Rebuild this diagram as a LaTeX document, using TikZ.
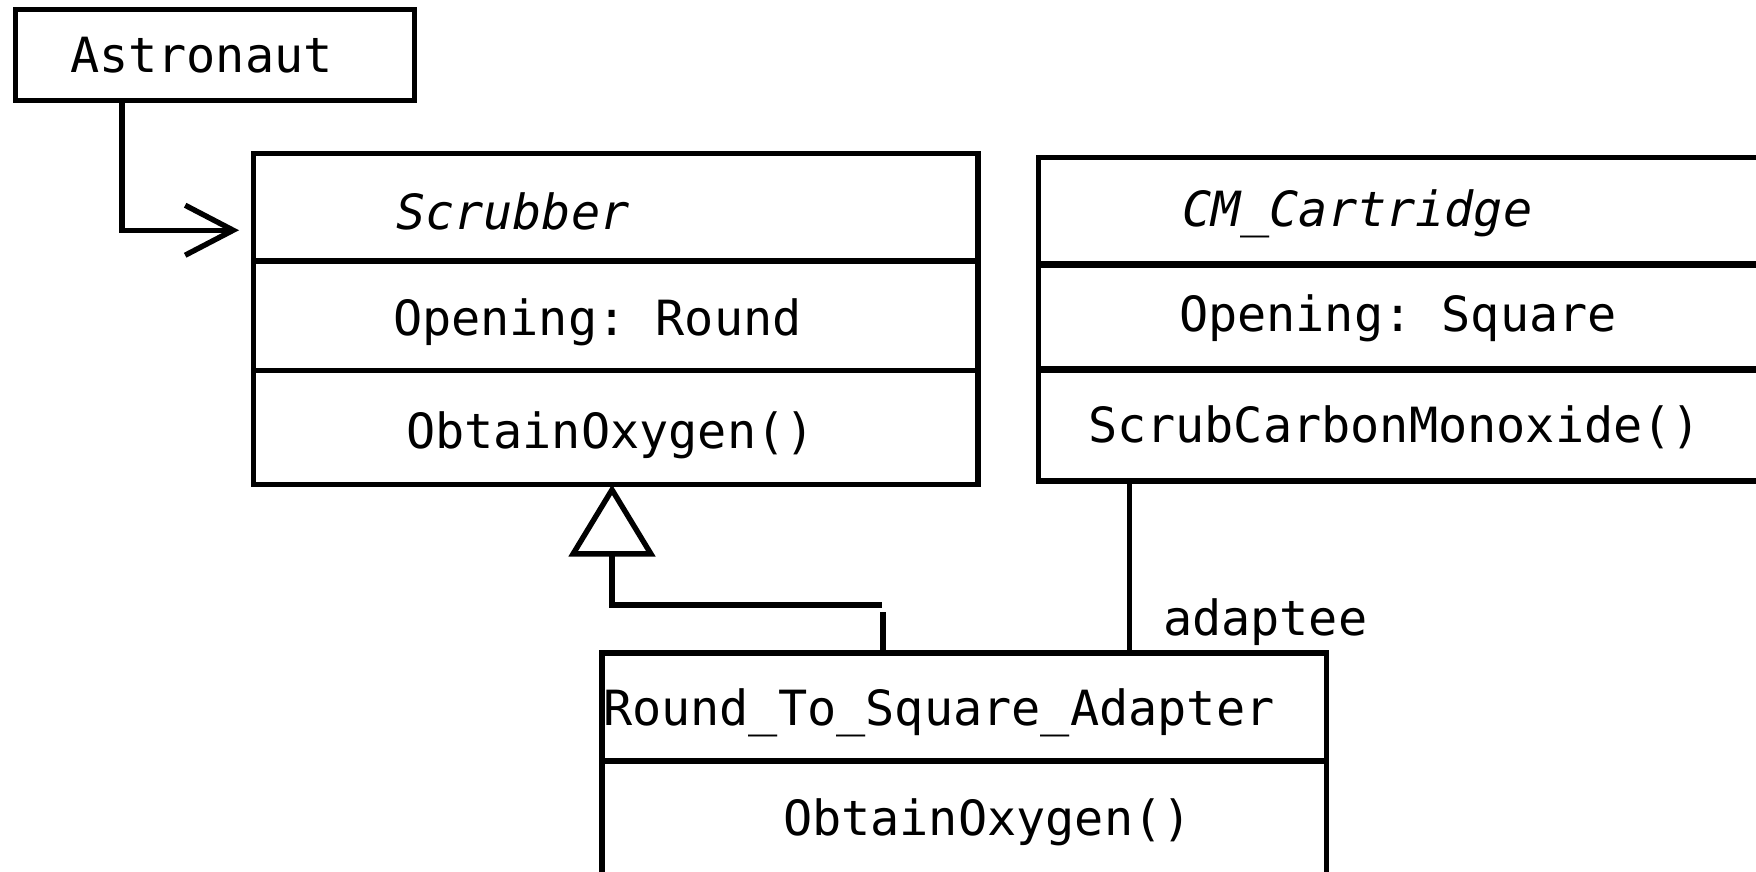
\documentclass[tikz,border=0pt]{standalone}
\usepackage{fontspec}
\newfontfamily\umlmono{DejaVu Sans Mono}
\usetikzlibrary{arrows.meta}
\tikzset{
  umlbox/.style={draw, line width=2.7pt, inner sep=0pt, outer sep=0pt, anchor=north west},
  umltext/.style={font=\umlmono\frenchspacing\fontsize{24.25pt}{29pt}\selectfont, anchor=base west, inner sep=0pt, outer sep=0pt},
  umlabstract/.style={umltext, font=\umlmono\frenchspacing\itshape\fontsize{24.25pt}{29pt}\selectfont},
  link/.style={line width=2.7pt},
}
\begin{document}
\begin{tikzpicture}[x=0.5pt, y=-0.5pt]
\fill[white] (0,0) rectangle (1756,872);
\useasboundingbox (0,0) rectangle (1756,872);
\clip (0,0) rectangle (1756,872);

% client
\node[umlbox, minimum width=199.5pt, minimum height=45.5pt] (astro) at (15.5,9.5) {};
\node[umltext] (astroLabel) at (70,73) {Astronaut};

% target class
\node[umlbox, minimum width=362.25pt, minimum height=53.75pt] (scrubName) at (253.5,153.5) {};
\node[umlbox, minimum width=362.25pt, minimum height=54.75pt] (scrubAttr) at (253.5,261) {};
\node[umlbox, minimum width=362.25pt, minimum height=57pt] (scrubOps) at (253.5,370.5) {};
\node[umlabstract] (scrubNameLabel) at (396,229) {Scrubber};
\node[umltext] (scrubAttrLabel) at (393,335) {Opening: Round};
\node[umltext] (scrubOpsLabel) at (406,448) {ObtainOxygen()};

% adaptee class
\node[umlbox, minimum width=390pt, minimum height=53.5pt] (cmName) at (1038.5,157.5) {};
\node[umlbox, minimum width=390pt, minimum height=52.25pt] (cmAttr) at (1038.5,264.5) {};
\node[umlbox, minimum width=390pt, minimum height=56pt] (cmOps) at (1038.5,369) {};
\draw[line width=3.5pt] (cmAttr.north west) -- (cmAttr.north east)
                        (cmOps.north west) -- (cmOps.north east);
\node[umlabstract] (cmNameLabel) at (1182,226) {CM\_Cartridge};
\node[umltext] (cmAttrLabel) at (1179,331) {Opening: Square};
\node[umltext] (cmOpsLabel) at (1088,442) {ScrubCarbonMonoxide()};

% adapter class
\node[umlbox, minimum width=362.25pt, minimum height=54pt] (adaptName) at (602,653) {};
\node[umlbox, minimum width=362.25pt, minimum height=80pt] (adaptOps) at (602,761) {};
\node[umltext] (adaptNameLabel) at (603,725) {Round\_To\_Square\_Adapter};
\node[umltext] (adaptOpsLabel) at (783,835) {ObtainOxygen()};

% connectors
\coordinate (astroX) at (122,0);
\draw[link, -{Straight Barb[length=24pt, width=25pt]}]
  (astro.south -| astroX) |- ([shift={(-7.25pt,-11.5pt)}]scrubName.west);

\coordinate (genX) at (612,0);
\coordinate (stubX) at (883,0);
\draw[link, -{Triangle[open, length=36pt, width=43pt]}]
  (adaptName.north -| stubX) -- ++(0,-41) ++(-1,-7) -| (scrubOps.south -| genX);

\coordinate (assocX) at (1129.5,0);
\draw[line width=2.4pt] (cmOps.south -| assocX) -- (adaptName.north -| assocX);
\node[umltext] (assocLabel) at (1163,635) {adaptee};
\end{tikzpicture}
\end{document}
